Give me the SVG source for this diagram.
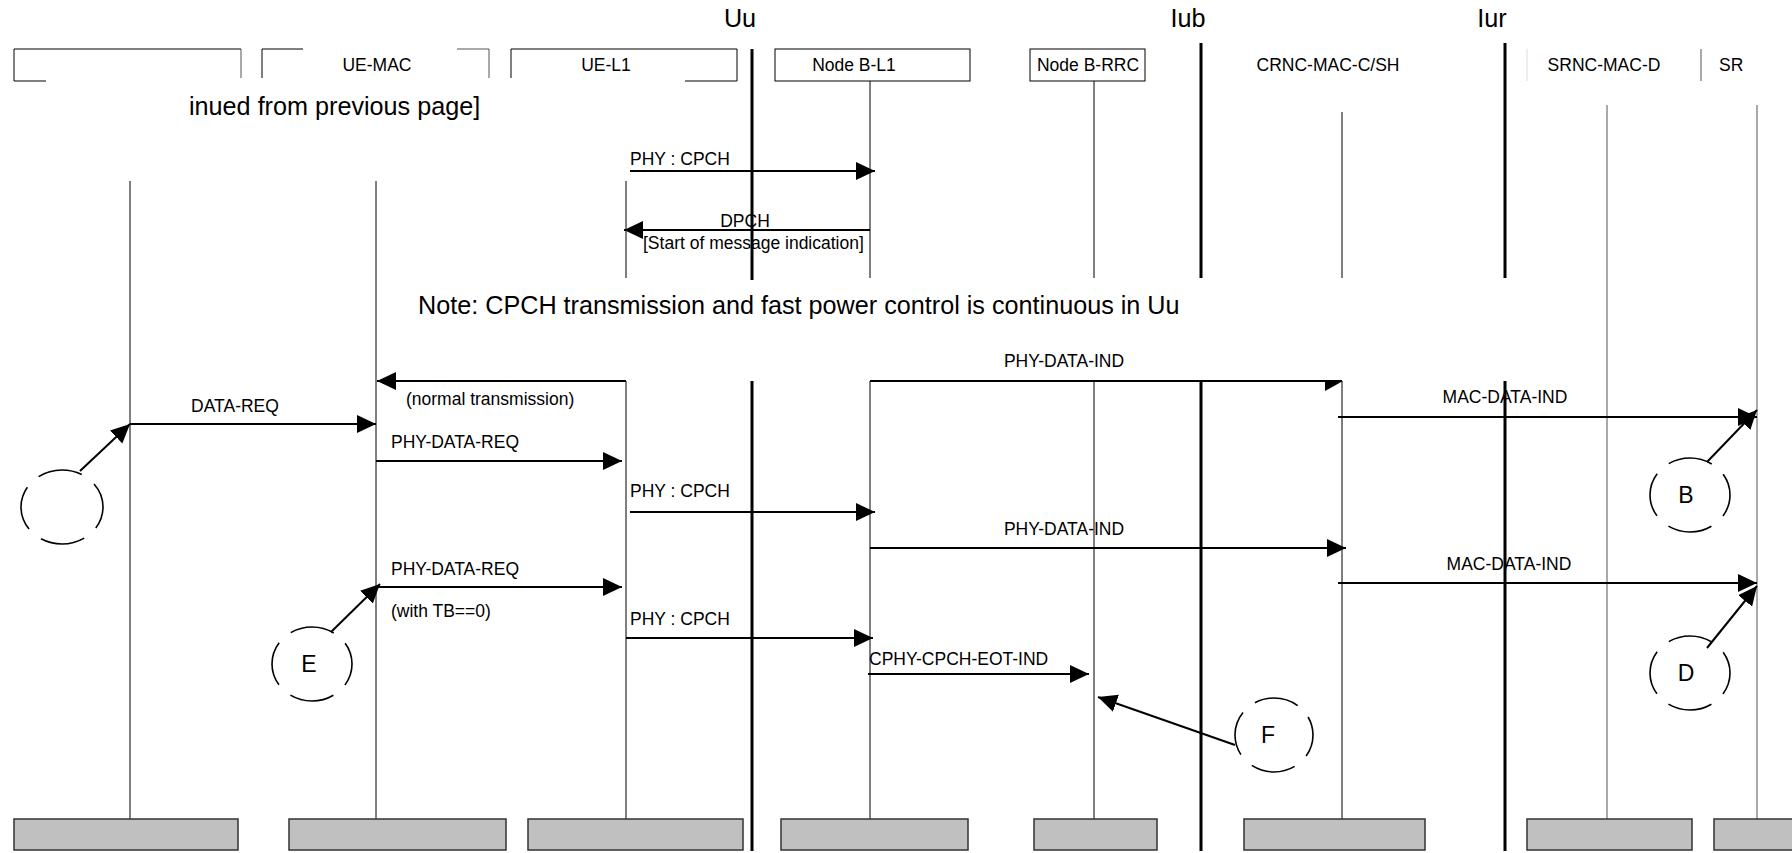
<svg xmlns="http://www.w3.org/2000/svg" width="1792" height="853" viewBox="0 0 1792 853">
<style>
.t{font-family:"Liberation Sans",Arial,sans-serif;font-size:17.5px;fill:#000}
.big{font-size:25.2px}
.cl{font-size:23px}
.ll{stroke:#000;stroke-width:1;fill:none}
.lg{stroke:#555;stroke-width:1;fill:none}
.if{stroke:#000;stroke-width:3}
.hb{fill:none;stroke:#000;stroke-width:1}
.bb{fill:#c0c0c0;stroke:#333;stroke-width:1.5}
.msg{stroke:#000;stroke-width:2;fill:none;marker-end:url(#ah)}
.cir{fill:none;stroke:#000;stroke-width:1.6;stroke-dasharray:45 15.5;stroke-dashoffset:22.5}
</style>
<defs>
<marker id="ah" markerUnits="userSpaceOnUse" markerWidth="20" markerHeight="20" refX="19" refY="9" orient="auto">
<path d="M0,0 L19,9 L0,18 z" fill="#000"/>
</marker>
</defs>
<rect width="1792" height="853" fill="#fff"/>

<g id="interfaces">
<line class="if" x1="752" y1="49" x2="752" y2="280"/>
<line class="if" x1="752" y1="381" x2="752" y2="851"/>
<line class="if" x1="1201" y1="43" x2="1201" y2="278"/>
<line class="if" x1="1201" y1="381" x2="1201" y2="851"/>
<line class="if" x1="1505" y1="43" x2="1505" y2="278"/>
<line class="if" x1="1505" y1="381" x2="1505" y2="851"/>
<text class="t big" x="740" y="27" text-anchor="middle">Uu</text>
<text class="t big" x="1188" y="27" text-anchor="middle">Iub</text>
<text class="t big" x="1492" y="27" text-anchor="middle">Iur</text>
</g>

<g id="p1">
<path class="hb" d="M46,81 H14 V49 H241"/>
<line class="lg" x1="241" y1="49" x2="241" y2="78"/>
<line class="ll" x1="130" y1="181" x2="130" y2="819"/>
<rect class="bb" x="14" y="819" width="224" height="31"/>
</g>

<g id="p2">
<path class="hb" d="M262,78 V49 H303"/>
<path class="lg" d="M457,49 H489 V78"/>
<text class="t" x="377" y="71" text-anchor="middle">UE-MAC</text>
<line class="ll" x1="376" y1="181" x2="376" y2="819"/>
<rect class="bb" x="289" y="819" width="217" height="31"/>
</g>

<g id="p3">
<path class="hb" d="M511,78 V49 H737 V81 H685"/>
<text class="t" x="606" y="71" text-anchor="middle">UE-L1</text>
<line class="ll" x1="626" y1="181" x2="626" y2="278"/>
<line class="ll" x1="626" y1="381" x2="626" y2="819"/>
<rect class="bb" x="528" y="819" width="215" height="31"/>
</g>

<g id="p4">
<rect class="hb" x="775" y="49" width="195" height="32"/>
<text class="t" x="854" y="71" text-anchor="middle">Node B-L1</text>
<line class="ll" x1="870" y1="81" x2="870" y2="278"/>
<line class="ll" x1="870" y1="381" x2="870" y2="819"/>
<rect class="bb" x="781" y="819" width="187" height="31"/>
</g>

<g id="p5">
<rect class="hb" x="1030" y="49" width="115" height="32"/>
<text class="t" x="1088" y="71" text-anchor="middle">Node B-RRC</text>
<line class="ll" x1="1094" y1="81" x2="1094" y2="278"/>
<line class="ll" x1="1094" y1="381" x2="1094" y2="819"/>
<rect class="bb" x="1034" y="819" width="123" height="31"/>
</g>

<g id="p6">
<text class="t" x="1328" y="71" text-anchor="middle">CRNC-MAC-C/SH</text>
<line class="ll" x1="1342" y1="112" x2="1342" y2="278"/>
<line class="ll" x1="1342" y1="381" x2="1342" y2="819"/>
<rect class="bb" x="1244" y="819" width="181" height="31"/>
</g>

<g id="p7">
<line x1="1527" y1="49" x2="1527" y2="81" stroke="#ddd" stroke-width="1"/>
<text class="t" x="1604" y="71" text-anchor="middle">SRNC-MAC-D</text>
<line class="lg" x1="1607" y1="105" x2="1607" y2="819"/>
<rect class="bb" x="1527" y="819" width="165" height="31"/>
</g>

<g id="p8">
<line class="lg" x1="1701" y1="49" x2="1701" y2="81"/>
<text class="t" x="1719" y="71">SR</text>
<line class="lg" x1="1757" y1="105" x2="1757" y2="819"/>
<rect class="bb" x="1714" y="819" width="90" height="31"/>
</g>

<g id="notes">
<text class="t big" x="189" y="115">inued from previous page]</text>
<text class="t big" x="418" y="314">Note: CPCH transmission and fast power control is continuous in Uu</text>
</g>

<g id="circleA">
<ellipse class="cir" cx="62" cy="507" rx="41" ry="37"/>
</g>
<g id="circleB">
<ellipse class="cir" cx="1690" cy="495" rx="40" ry="37"/>
<text class="t cl" x="1686" y="503" text-anchor="middle">B</text>
</g>
<g id="circleD">
<ellipse class="cir" cx="1690" cy="673" rx="40" ry="37"/>
<text class="t cl" x="1686" y="681" text-anchor="middle">D</text>
</g>
<g id="circleE">
<ellipse class="cir" cx="312" cy="664" rx="40" ry="37"/>
<text class="t cl" x="309" y="672" text-anchor="middle">E</text>
</g>
<g id="circleF">
<ellipse class="cir" cx="1274" cy="735" rx="39" ry="37"/>
<text class="t cl" x="1268" y="743" text-anchor="middle">F</text>
</g>

<g id="connectors">
<line class="msg" x1="630" y1="171" x2="875" y2="171"/>
<text class="t" x="630" y="165">PHY : CPCH</text>

<line class="msg" x1="870" y1="230" x2="624" y2="230"/>
<text class="t" x="745" y="227" text-anchor="middle">DPCH</text>
<text class="t" x="643" y="249">[Start of message indication]</text>

<line class="msg" x1="626" y1="381" x2="377" y2="381"/>
<text class="t" x="406" y="405">(normal transmission)</text>

<line x1="870" y1="381" x2="1342" y2="381" stroke="#000" stroke-width="2"/>
<polygon points="1325,381 1343,381 1325,391" fill="#000"/>
<text class="t" x="1064" y="367" text-anchor="middle">PHY-DATA-IND</text>

<line class="msg" x1="130" y1="424" x2="376" y2="424"/>
<text class="t" x="235" y="412" text-anchor="middle">DATA-REQ</text>
<line class="msg" x1="80" y1="471" x2="130" y2="424"/>

<line class="msg" x1="376" y1="461" x2="622" y2="461"/>
<text class="t" x="391" y="448">PHY-DATA-REQ</text>

<line class="msg" x1="1338" y1="417" x2="1757" y2="417"/>
<text class="t" x="1505" y="403" text-anchor="middle">MAC-DATA-IND</text>
<line class="msg" x1="1707" y1="462" x2="1757" y2="410"/>

<line class="msg" x1="630" y1="512" x2="875" y2="512"/>
<text class="t" x="630" y="497">PHY : CPCH</text>

<line class="msg" x1="870" y1="548" x2="1346" y2="548"/>
<text class="t" x="1064" y="535" text-anchor="middle">PHY-DATA-IND</text>

<line class="msg" x1="376" y1="587" x2="622" y2="587"/>
<text class="t" x="391" y="575">PHY-DATA-REQ</text>
<text class="t" x="391" y="617">(with TB==0)</text>
<line class="msg" x1="331" y1="632" x2="380" y2="584"/>

<line class="msg" x1="1338" y1="583" x2="1757" y2="583"/>
<text class="t" x="1509" y="570" text-anchor="middle">MAC-DATA-IND</text>
<line class="msg" x1="1707" y1="648" x2="1757" y2="586"/>

<line class="msg" x1="626" y1="638" x2="873" y2="638"/>
<text class="t" x="630" y="625">PHY : CPCH</text>

<line class="msg" x1="868" y1="674" x2="1089" y2="674"/>
<text class="t" x="869" y="665">CPHY-CPCH-EOT-IND</text>

<line class="msg" x1="1235" y1="745" x2="1098" y2="697"/>
</g>
</svg>
